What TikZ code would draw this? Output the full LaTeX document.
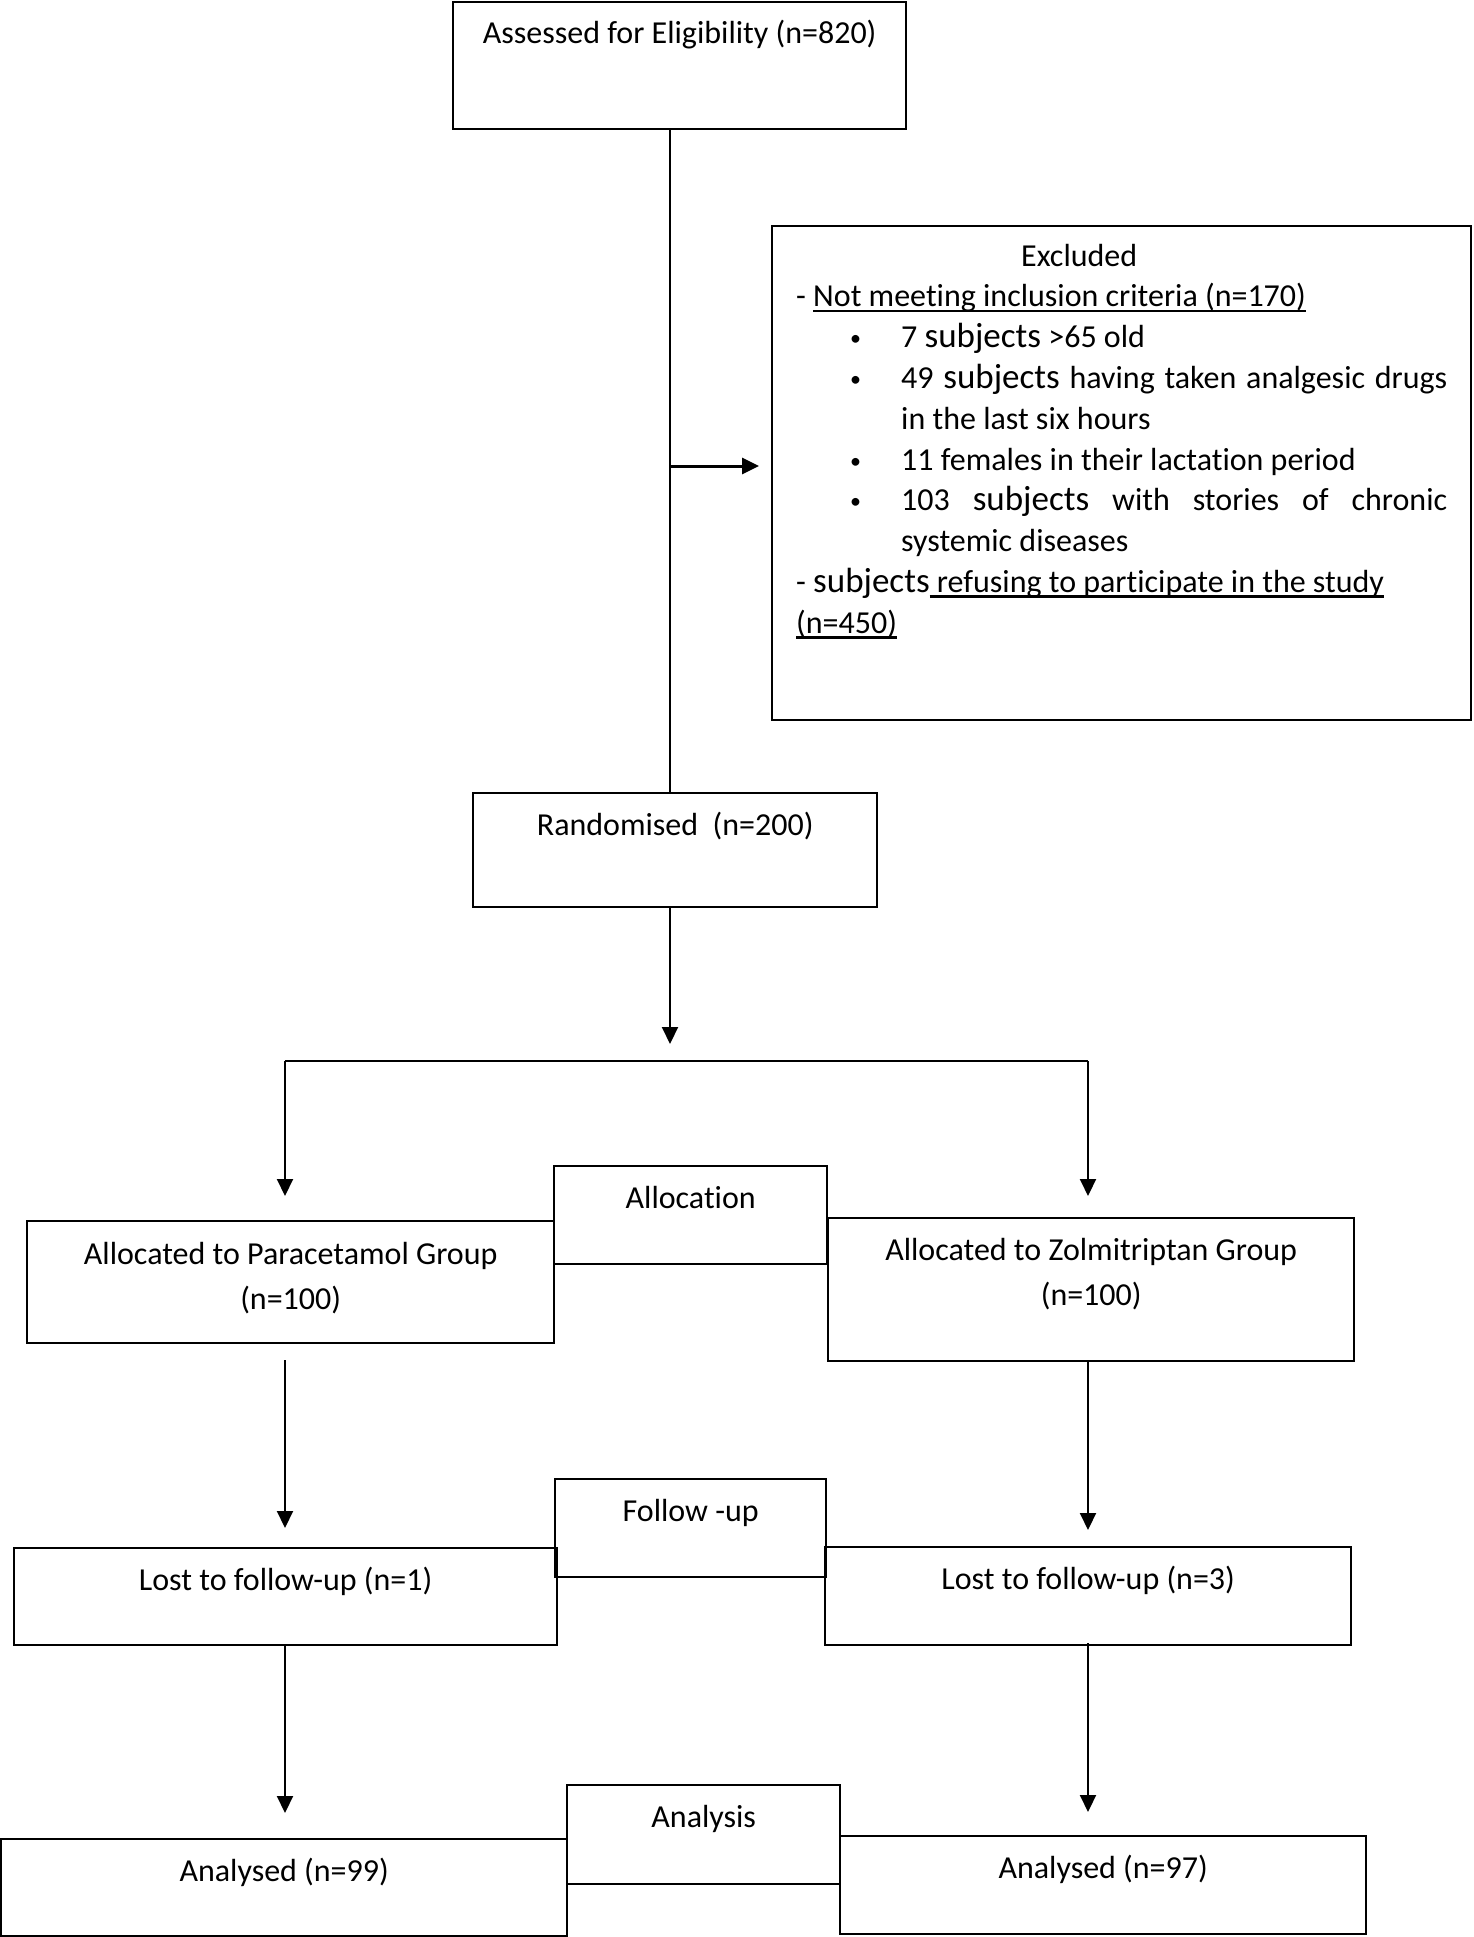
\documentclass[tikz,border=0pt]{standalone}
\usepackage{fontspec}
\setmainfont{Carlito}[Ligatures=NoCommon]
\usetikzlibrary{arrows.meta}
\newcommand{\subj}{{\fontsize{35}{40.8}\selectfont subjects}}
\newcommand{\uln}[1]{\setbox0\hbox{#1}\rlap{\vrule width\wd0 height-3pt depth5.5pt}\box0}
\newcommand{\blt}{\makebox[51pt][l]{\fontsize{22}{40.8}\selectfont\raisebox{2pt}{•}}}

\begin{document}
\begin{tikzpicture}[x=1pt, y=-1pt,
        box/.style={draw, line width=2.4pt, inner sep=0pt, anchor=north west},
        boxtext/.style={anchor=base, inner sep=0pt},
        line/.style={line width=2pt},
        arrow/.style={line width=2pt, -{Triangle[length=17pt, width=16pt]}},
        font=\fontsize{32}{45}\selectfont]
            \useasboundingbox (0,0) rectangle (1473,1937);
            % Riquadri
            \foreach \boxname/\xa/\ya/\xb/\yb in {assess/452/1/905/128, excl/771/225/1470/719, rand/472/792/876/906,
                alloc/553/1165/826/1263, para/26/1220/553/1342, zolm/827/1217/1353/1360,
                follow/554/1478/825/1576, lostL/13/1547/556/1644, lostR/824/1546/1350/1644,
                analysis/566/1784/839/1883, anaL/0/1838/566/1935, anaR/839/1835/1365/1933}
                \node[box, minimum width={(\xb-\xa)*1pt}, minimum height={(\yb-\ya)*1pt}] (\boxname) at (\xa,\ya) {};

            % Testi
            \foreach \boxname/\boxlabel in {assess/Assessed for Eligibility (n=820), rand/Randomised\ \ (n=200),
                alloc/Allocation, follow/Follow -up, lostL/Lost to follow-up (n=1), lostR/Lost to follow-up (n=3),
                analysis/Analysis, anaL/Analysed (n=99), anaR/Analysed (n=97)}
                \node[boxtext] (\boxname-t) at ([yshift=-43pt]\boxname.north) {\boxlabel};
            \node[boxtext] (para-t) at ([yshift=-44pt]para.north) {\parbox[t]{500pt}{\centering Allocated to Paracetamol Group\\(n=100)}};
            \node[boxtext] (zolm-t) at ([yshift=-43pt]zolm.north) {\parbox[t]{500pt}{\centering Allocated to Zolmitriptan Group\\(n=100)}};
            \node[anchor=base west, inner sep=0pt] (excl-t) at ([xshift=25pt, yshift=-41pt]excl.north west) {\parbox[t]{670pt}{%
                \fontsize{32}{40.8}\selectfont
                \hspace*{225pt}Excluded\\
                - \uln{Not meeting inclusion criteria (n=170)}\\
                \hspace*{54pt}\blt 7 \subj\ >65 old\\
                \hspace*{54pt}\blt\makebox[546pt][s]{49 \subj\ having taken analgesic drugs}\\
                \hspace*{105pt}in the last six hours\\
                \hspace*{54pt}\blt 11 females in their lactation period\\
                \hspace*{54pt}\blt\makebox[546pt][s]{103 \subj\ with stories of chronic}\\
                \hspace*{105pt}systemic diseases\\
                - \subj\uln{ refusing to participate in the study}\\
                \uln{(n=450)}}};

            % Collegamenti
            \coordinate (exsplit) at (670,466);
            \coordinate (randtip) at (670,1044);
            \coordinate (splitL) at (285,1061);
            \coordinate (splitR) at (1088,1061);
            \draw[line] (assess.south -| exsplit) -- (rand.north -| exsplit);
            \draw[arrow, line width=3pt] (exsplit) -- ([xshift=-12pt]excl.west |- exsplit);
            \draw[arrow] (rand.south -| randtip) -- (randtip);
            \draw[line] (splitL) -- (splitR);
            \draw[arrow] (splitL) -- ([yshift=24pt]splitL |- para.north);
            \draw[arrow] (splitR) -- ([yshift=21pt]splitR |- zolm.north);
            \draw[arrow] ([yshift=-16pt]splitL |- para.south) -- ([yshift=19pt]splitL |- lostL.north);
            \draw[arrow] (splitR |- zolm.south) -- ([yshift=16pt]splitR |- lostR.north);
            \draw[arrow] (splitL |- lostL.south) -- ([yshift=25pt]splitL |- anaL.north);
            \draw[arrow] ([yshift=3pt]splitR |- lostR.south) -- ([yshift=23pt]splitR |- anaR.north);
\end{tikzpicture}
\end{document}
